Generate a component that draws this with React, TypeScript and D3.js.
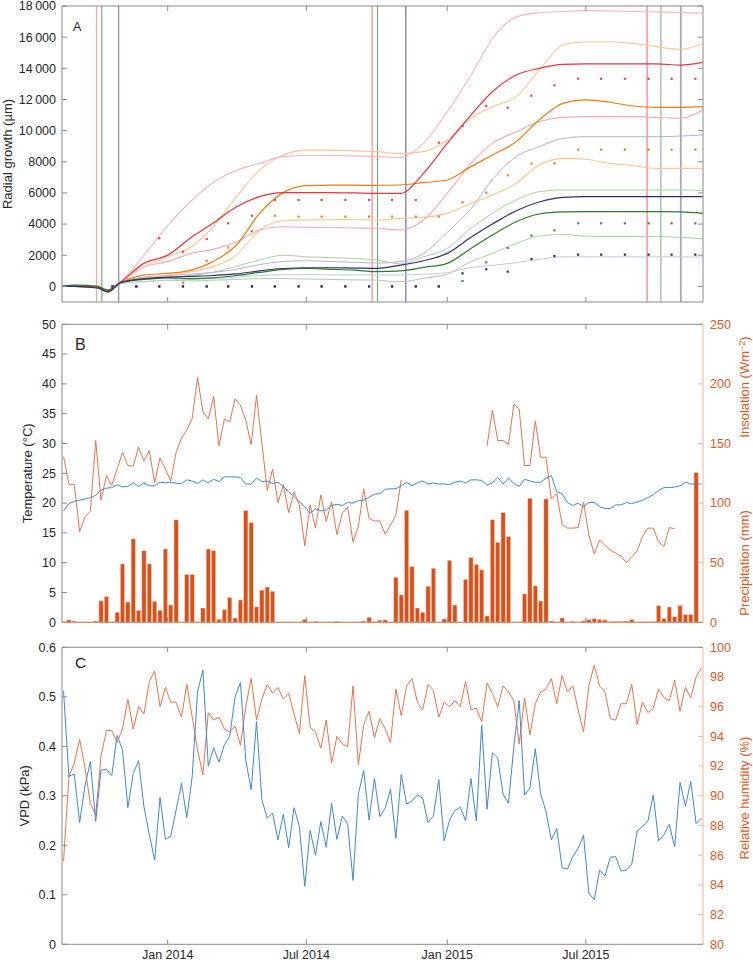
import React from 'react';
import * as d3 from 'd3';

const parse = d3.timeParse('%Y-%m-%d');

// ---------- shared x axis ----------
const xDomain = ['2013-08-16', '2015-12-01'];
const dateTicks = ['2014-01-01', '2014-07-01', '2015-01-01', '2015-07-01'];
const dateTickLabels = ['Jan 2014', 'Jul 2014', 'Jan 2015', 'Jul 2015'];

// ---------- panel A: radial growth ----------
const growthTicks = [0, 2000, 4000, 6000, 8000, 10000, 12000, 14000, 16000, 18000];
const growthTickLabels = ['0', '2000', '4000', '6000', '8000', '10\u2009000', '12\u2009000', '14\u2009000', '16\u2009000', '18\u2009000'];

const knotDates = [
  '2013-08-16', '2013-09-01', '2013-10-01', '2013-10-15', '2013-11-01', '2013-12-01',
  '2014-01-01', '2014-02-01', '2014-03-01', '2014-04-01', '2014-05-01', '2014-06-01',
  '2014-07-01', '2014-08-01', '2014-09-01', '2014-10-01', '2014-11-01', '2014-12-01',
  '2015-01-01', '2015-02-01', '2015-03-01', '2015-04-01', '2015-05-01', '2015-06-01',
  '2015-07-01', '2015-08-01', '2015-09-01', '2015-10-01', '2015-11-01', '2015-12-01',
];

const pinkUpper = [0, 50, 0, -250, 300, 2000, 3900, 5500, 6650, 7450, 7900, 8350, 8400, 8400, 8380, 8330, 8280, 9180, 11200, 13550, 15900, 17300, 17570, 17650, 17700, 17680, 17650, 17620, 17580, 17530];
const redTree = [0, 0, -50, -250, 300, 1480, 2010, 3150, 4050, 5120, 5760, 6020, 6020, 6020, 6000, 5970, 5970, 7260, 9180, 11000, 12500, 13570, 14000, 14250, 14280, 14280, 14280, 14280, 14210, 14380];
const peachUpper = [0, 0, -50, -250, 300, 1270, 1900, 2550, 3830, 5760, 7470, 8430, 8750, 8750, 8700, 8650, 8540, 8650, 9400, 10790, 11540, 12180, 13890, 15500, 15710, 15710, 15600, 15390, 15220, 15600];
const orangeTree = [0, 0, -50, -250, 250, 730, 840, 1050, 1590, 2660, 4690, 6020, 6470, 6500, 6500, 6480, 6510, 6660, 6830, 7690, 8430, 9290, 10680, 11750, 11970, 11820, 11580, 11490, 11490, 11540];
const pinkLower = [0, 0, -50, -300, 300, 1270, 1590, 2120, 2380, 2870, 3620, 3830, 3800, 3780, 3750, 3730, 3620, 4260, 5970, 7900, 9180, 9930, 10570, 10850, 10900, 10900, 10900, 10850, 10790, 11320];
const peachLower = [0, 0, -50, -250, 300, 520, 730, 940, 1270, 2010, 3620, 4220, 4260, 4280, 4300, 4260, 4370, 4430, 4690, 5330, 5870, 6620, 7790, 8220, 8160, 7900, 7750, 7580, 7580, 7580];
const lavenderUpper = [0, 0, -100, -350, 250, 600, 700, 800, 900, 1100, 1400, 1600, 1650, 1600, 1550, 1500, 1590, 2120, 3470, 4990, 6850, 8330, 8970, 9500, 9610, 9610, 9610, 9610, 9650, 9720];
const navyTree = [0, 0, -100, -350, 250, 500, 600, 650, 700, 800, 1000, 1150, 1200, 1200, 1180, 1160, 1370, 1650, 2120, 3150, 4000, 4860, 5420, 5720, 5760, 5760, 5760, 5760, 5760, 5760];
const greenUpper = [0, 80, 50, -200, 300, 500, 600, 700, 900, 1300, 1700, 2000, 1900, 1850, 1800, 1700, 1450, 1900, 2440, 3730, 4690, 5550, 6080, 6190, 6190, 6190, 6190, 6190, 6190, 6150];
const greenTree = [0, 80, 0, -250, 250, 450, 550, 500, 550, 700, 900, 1100, 1150, 1100, 1050, 950, 1000, 1220, 1480, 2440, 3300, 4150, 4650, 4780, 4800, 4800, 4800, 4800, 4780, 4690];
const lavenderLower = [0, 0, -100, -400, 200, 300, 400, 450, 500, 600, 700, 750, 750, 750, 740, 730, 730, 780, 880, 1220, 1350, 1520, 1740, 1900, 1900, 1900, 1900, 1900, 1900, 1880];
const greenLower = [0, 50, 0, -300, 200, 300, 400, 350, 400, 450, 500, 500, 480, 450, 420, 400, 300, 520, 790, 1590, 2120, 2760, 3230, 3340, 3230, 3200, 3200, 3200, 3150, 3050];

const dotDates = [
  '2013-10-21', '2013-11-21', '2013-12-21', '2014-01-21', '2014-02-21', '2014-03-21', '2014-04-21',
  '2014-05-21', '2014-06-21', '2014-07-21', '2014-08-21', '2014-09-21', '2014-10-21', '2014-11-21',
  '2014-12-21', '2015-01-21', '2015-02-21', '2015-03-21', '2015-04-21', '2015-05-21', '2015-06-21',
  '2015-07-21', '2015-08-21', '2015-09-21', '2015-10-21', '2015-11-21',
];
const dotsRed = [0, 0, 3090, 2230, 3040, 4050, 4540, 5550, 5550, 5550, 5550, 5550, 5550, 5550, 9230, 10300, 11580, 11470, 12240, 12910, 13330, 13330, 13330, 13330, 13330, 13330];
const dotsOrange = [0, 0, 0, 240, 1650, 2490, 3560, 4540, 4480, 4480, 4480, 4480, 4480, 4480, 4480, 5400, 6020, 7130, 7880, 7900, 8780, 8780, 8780, 8780, 8780, 8780];
const dotsGreen = [0, 0, 0, 0, 0, 0, 0, 0, 0, 0, 0, 0, 0, 0, 0, 350, 1550, 2470, 3260, 3600, 4050, 4050, 4050, 4050, 4050, 4050];
const dotsNavy = [0, 0, 0, 0, 0, 0, 0, 0, 0, 0, 0, 0, 0, 0, 0, 840, 1100, 950, 1760, 1950, 2040, 2040, 2040, 2040, 2040, 2040];

const markerDates = ['2013-09-30', '2013-10-07', '2013-10-29', '2014-09-25', '2014-10-02', '2014-11-08', '2015-09-19', '2015-10-07', '2015-11-02'];

// ---------- weekly climate (first value = week -1, starting 2013-08-18) ----------
const weekStart = '2013-08-18';
const tempC = [18.7, 19.9, 20.3, 20.5, 20.7, 20.9, 21.3, 22.2, 22.5, 22.6, 23.1,
  22.7, 22.8, 23.4, 22.8, 23.4, 22.9, 22.9, 23.5, 23.4, 23.5,
  23.3, 23.3, 23.9, 23.7, 23.3, 23.9, 23.4, 24.0, 23.6, 24.4,
  24.4, 24.4, 24.3, 23.2, 23.2, 24.2, 23.6, 23.7, 23.3, 23.5,
  22.8, 21.9, 21.1, 20.2, 19.4, 18.3, 19.0, 18.7, 18.8, 19.6,
  19.8, 19.6, 20.1, 20.0, 20.4, 20.5, 21.0, 21.5, 21.6, 22.3,
  22.4, 22.4, 22.9, 23.5, 22.9, 23.4, 23.7, 23.2, 23.4, 23.2,
  23.2, 23.1, 23.5, 23.7, 23.4, 23.9, 23.9, 23.8, 23.0, 23.4,
  24.3, 23.2, 24.2, 23.3, 22.8, 24.0, 23.7, 23.5, 23.5, 24.2,
  24.6, 21.9, 21.6, 20.1, 19.6, 20.0, 19.4, 20.1, 20.1, 19.4,
  19.1, 19.1, 19.7, 19.7, 20.1, 19.9, 20.2, 20.5, 20.9, 21.4,
  22.1, 22.6, 22.6, 22.7, 22.9, 23.5, 23.2, 23.2, 23.2];
const insolation = [139, 115.8, 115.8, 76, 88.5, 93, 152.5, 102.5, 123, 115, 128.5,
  142.5, 131.5, 131, 147, 135.5, 144, 117, 138, 128.5, 118.5,
  142.5, 154.5, 161.5, 171, 205.5, 176.5, 170.5, 189.5, 148, 170.5,
  168, 187.5, 182, 169.5, 149, 190.5, 150, 110.5, 128.5, 100.5,
  115, 92, 109.5, 98.5, 64, 98.5, 79, 107, 84.5, 101,
  73.5, 91.5, 96.5, 67.5, 80.5, 112, 87, 85, 85, 74,
  81.5, 90, 119.5, null, null, null, null, null, null, null,
  null, null, null, null, null, null, null, null, 148, 178,
  152.5, 152.5, 149, 183, 179, 131.5, 131.5, 169, 138.5, 138.5,
  103.5, 108, 82, 79, 79, 79.5, 101, 73, 57.5, 69,
  64.5, 60.5, 58, 55.5, 50, 55, 60, 72, 79, 79,
  67.5, 63.5, 79.5, 78.5, null, null, null, null, null];
const vpd = [0.512, 0.339, 0.344, 0.246, 0.32, 0.369, 0.248, 0.352, 0.354, 0.341, 0.422,
  0.393, 0.276, 0.345, 0.371, 0.278, 0.222, 0.170, 0.297, 0.212, 0.218,
  0.271, 0.325, 0.256, 0.339, 0.510, 0.554, 0.360, 0.397, 0.368, 0.403,
  0.420, 0.500, 0.529, 0.372, 0.312, 0.450, 0.292, 0.255, 0.265, 0.211,
  0.263, 0.195, 0.276, 0.238, 0.117, 0.230, 0.180, 0.248, 0.196, 0.285,
  0.212, 0.259, 0.244, 0.129, 0.304, 0.351, 0.251, 0.335, 0.258, 0.275,
  0.313, 0.214, 0.343, 0.283, 0.290, 0.302, 0.295, 0.246, 0.259, 0.333,
  0.209, 0.251, 0.270, 0.277, 0.250, 0.335, 0.249, 0.443, 0.273, 0.387,
  0.376, 0.303, 0.285, 0.399, 0.492, 0.302, 0.316, 0.395, 0.304, 0.268,
  0.211, 0.234, 0.155, 0.152, 0.177, 0.194, 0.220, 0.103, 0.090, 0.150,
  0.138, 0.176, 0.177, 0.148, 0.150, 0.162, 0.229, 0.238, 0.248, 0.302,
  0.209, 0.222, 0.242, 0.197, 0.327, 0.279, 0.329, 0.244, 0.255];
const rh = [85.6, 91.3, 92.2, 93.8, 91.9, 89.5, 88.7, 92.7, 94.4, 94.4, 93.6,
  94.5, 96.5, 94.5, 96.0, 95.5, 97.7, 98.4, 96.0, 97.3, 96.3,
  96.3, 95.3, 97.5, 95.3, 93.1, 91.4, 95.6, 95.1, 95.3, 94.5,
  94.3, 94.7, 93.4, 96.0, 97.9, 95.1, 96.5, 97.5, 96.9, 97.3,
  96.5, 96.9, 95.5, 94.2, 98.1, 94.6, 94.3, 93.2, 95.1, 92.2,
  94.0, 93.5, 93.3, 97.4, 92.1, 94.8, 95.7, 93.9, 95.2, 94.5,
  93.6, 97.2, 95.4, 97.4, 97.9, 96.3, 95.8, 97.5, 97.1, 95.3,
  96.3, 96.0, 96.4, 96.0, 97.7, 95.8, 95.9, 95.0, 97.6, 96.9,
  96.0, 97.4, 97.0, 96.4, 93.5, 96.6, 94.1, 96.2, 97.0, 97.2,
  97.9, 96.2, 98.1, 97.0, 97.4, 95.8, 94.3, 97.4, 98.8, 97.4,
  97.0, 95.2, 95.1, 96.2, 96.2, 97.5, 94.8, 96.3, 95.6, 95.9,
  97.2, 96.6, 96.4, 97.8, 95.7, 97.3, 96.6, 98.0, 98.6];
// weekly precipitation (mm), first value = week 0 (2013-08-25)
const precipStart = '2013-08-25';
const precip = [2, 1, 0, 0, 0, 1, 18, 21.5, 0, 8.4,
  49, 17, 70, 10, 60, 49, 17.6, 10, 61.5, 14.5,
  86, 0, 40, 40, 0, 12, 61.5, 60, 2.5, 10.6,
  20.7, 3.6, 18.7, 93.7, 83.6, 12.9, 27, 29.6, 26, 0,
  0, 0, 0, 0, 2.5, 0, 0.8, 0, 0, 0,
  0.6, 0, 0, 0, 0, 1, 4.2, 0.4, 1.8, 2,
  0, 37.7, 22.9, 94, 46.7, 12, 8.4, 30.2, 45.3, 0,
  2.8, 52, 14.5, 0, 36, 54.3, 48.4, 43.9, 5.3, 86,
  67, 92, 72, 0, 0, 23.8, 104, 30.5, 17.9, 103.5,
  1.1, 0, 3.6, 0, 0.8, 0, 1.2, 2.2, 3, 2.4,
  2, 0.3, 0.7, 0.7, 1, 2.3, 0, 0.3, 0.3, 0.5,
  14, 3.2, 12.8, 4.6, 14, 6.4, 6.6, 125.5];

const tempTicks = [0, 5, 10, 15, 20, 25, 30, 35, 40, 45, 50];
const rightBTicks = [0, 50, 100, 150, 200, 250];
const vpdTicks = [0, 0.1, 0.2, 0.3, 0.4, 0.5, 0.6];
const rhTicks = [80, 82, 84, 86, 88, 90, 92, 94, 96, 98, 100];

// ---------- layout & style ----------
const L = 62, R = 703;
const PA = { top: 6, bottom: 302 };
const PB = { top: 324.3, bottom: 622.3 };
const PC = { top: 647.3, bottom: 944.3 };
const AXIS = '#8a8a8a';
const TXT = '#262626';
const RIGHT_AX = '#f2b49a';
const RIGHT_TXT = '#db5a24';
const BLUE = '#3f87cf';
const SALMON = '#ea7048';
const BAR = '#d9501a';
const FONT = "'Liberation Sans', Arial, Helvetica, sans-serif";
const TICK = 5;

const seriesStyle = [
  { data: greenLower, color: '#a9d0a0', w: 1 },
  { data: lavenderLower, color: '#c8c6e2', w: 1 },
  { data: greenUpper, color: '#a9d0a0', w: 1 },
  { data: lavenderUpper, color: '#b3b0d6', w: 1 },
  { data: peachLower, color: '#fdc58f', w: 1.1 },
  { data: pinkLower, color: '#f5a9b7', w: 1.1 },
  { data: peachUpper, color: '#fdc58f', w: 1.1 },
  { data: pinkUpper, color: '#f7b3c0', w: 1.1 },
  { data: orangeTree, color: '#f27a10', w: 1.2 },
  { data: redTree, color: '#e8323f', w: 1.2 },
  { data: greenTree, color: '#2b7a2b', w: 1.2 },
  { data: navyTree, color: '#2f2f6c', w: 1.2 },
];
const markerStyle = [
  { color: '#f5a3ad', w: 1.2 }, { color: '#5e9f5e', w: 1 }, { color: '#8a8aa8', w: 1.2 },
  { color: '#f08890', w: 1.2 }, { color: '#6aa56a', w: 1 }, { color: '#55558a', w: 1 },
  { color: '#ee7070', w: 1.1 }, { color: '#7aaa7a', w: 1 }, { color: '#a9a5bd', w: 1.8 },
];
const dotStyle = [
  { data: dotsGreen, color: '#3f8f3f' },
  { data: dotsOrange, color: '#f07f1e' },
  { data: dotsRed, color: '#e8424f' },
  { data: dotsNavy, color: '#2d2d6b' },
];

export default function App() {
  const x = d3.scaleTime().domain(xDomain.map((d) => parse(d) as Date)).range([L, R]);
  const yA = d3.scaleLinear().domain([-1000, 18000]).range([PA.bottom, PA.top]);
  const yB = d3.scaleLinear().domain([0, 50]).range([PB.bottom, PB.top]);
  const yBR = d3.scaleLinear().domain([0, 250]).range([PB.bottom, PB.top]);
  const yC = d3.scaleLinear().domain([0, 0.6]).range([PC.bottom, PC.top]);
  const yCR = d3.scaleLinear().domain([80, 100]).range([PC.bottom, PC.top]);

  const knots = knotDates.map((d) => parse(d) as Date);
  const ws = parse(weekStart) as Date;
  const ps = parse(precipStart) as Date;
  const weekDate = (i: number) => d3.timeDay.offset(ws, 7 * i);
  const precipDate = (i: number) => d3.timeDay.offset(ps, 7 * i);
  const dDates = dotDates.map((d) => parse(d) as Date);
  const mDates = markerDates.map((d) => parse(d) as Date);
  const tDates = dateTicks.map((d) => parse(d) as Date);

  const growthLine = d3.line<number>().x((_, i) => x(knots[i])).y((v) => yA(v)).curve(d3.curveMonotoneX);
  const weekly = (scale: d3.ScaleLinear<number, number>) =>
    d3.line<number | null>().defined((v) => v != null).x((_, i) => x(weekDate(i))).y((v) => scale(v as number));

  const frame = (top: number, bottom: number, yTicksL: number[], sL: any, right: 'gray' | 'salmon', yTicksR: number[], sR: any, key: string) => (
    <g key={key}>
      {/* date ticks top & bottom */}
      {tDates.map((d, i) => (
        <g key={i}>
          <line x1={x(d)} x2={x(d)} y1={top} y2={top + TICK} stroke={AXIS} />
          <line x1={x(d)} x2={x(d)} y1={bottom} y2={bottom - TICK} stroke={AXIS} />
        </g>
      ))}
      {yTicksL.map((t, i) => (
        <line key={'l' + i} x1={L} x2={L + TICK} y1={sL(t)} y2={sL(t)} stroke={AXIS} />
      ))}
      {yTicksR.map((t, i) => (
        <line key={'r' + i} x1={R} x2={R - TICK} y1={sR(t)} y2={sR(t)} stroke={right === 'gray' ? AXIS : RIGHT_AX} />
      ))}
      <line x1={L} x2={R} y1={top} y2={top} stroke={AXIS} />
      <line x1={L} x2={R} y1={bottom} y2={bottom} stroke={AXIS} />
      <line x1={L} x2={L} y1={top} y2={bottom} stroke={AXIS} />
      <line x1={R} x2={R} y1={top} y2={bottom} stroke={right === 'gray' ? AXIS : RIGHT_AX} />
    </g>
  );

  return (
    <svg width={753} height={963} style={{ position: 'absolute', left: 0, top: 0, background: '#fff' }} fontFamily={FONT}>
      <defs>
        <clipPath id="clipA"><rect x={L} y={PA.top} width={R - L} height={PA.bottom - PA.top} /></clipPath>
        <clipPath id="clipB"><rect x={L} y={PB.top} width={R - L} height={PB.bottom - PB.top} /></clipPath>
        <clipPath id="clipC"><rect x={L} y={PC.top} width={R - L} height={PC.bottom - PC.top} /></clipPath>
      </defs>
      <rect x={0} y={0} width={753} height={963} fill="#fff" />

      {/* ---------------- Panel A ---------------- */}
      <g clipPath="url(#clipA)">
        {mDates.map((d, i) => (
          <line key={i} x1={x(d)} x2={x(d)} y1={PA.top} y2={PA.bottom} stroke={markerStyle[i].color} strokeWidth={markerStyle[i].w} />
        ))}
        {seriesStyle.map((s, i) => (
          <path key={i} d={growthLine(s.data) || ''} fill="none" stroke={s.color} strokeWidth={s.w} />
        ))}
        {dotStyle.map((s, i) => (
          <g key={i}>
            {s.data.map((v, j) => (
              <rect key={j} x={x(dDates[j]) - 1.1} y={yA(v) - 1.1} width={2.2} height={2.2} fill={s.color} />
            ))}
          </g>
        ))}
      </g>
      {frame(PA.top, PA.bottom, growthTicks, yA, 'gray', growthTicks, yA, 'fa')}
      {growthTicks.map((t, i) => (
        <text key={i} x={56} y={yA(t)} dy="0.35em" textAnchor="end" fontSize={12.5} fill={TXT}>{growthTickLabels[i]}</text>
      ))}
      <text transform={`translate(12,${(PA.top + PA.bottom) / 2}) rotate(-90)`} textAnchor="middle" fontSize={13} fill={TXT}>Radial growth (µm)</text>
      <text x={73} y={31} fontSize={12.5} fill={TXT}>A</text>

      {/* ---------------- Panel B ---------------- */}
      <g clipPath="url(#clipB)">
        {precip.map((v, i) => (
          <rect key={i} x={x(precipDate(i)) - 2.1} y={yBR(v)} width={4.2} height={yBR(0) - yBR(v)} fill={BAR} stroke="#f7c9b3" strokeWidth={0.5} />
        ))}
        <path d={weekly(yBR)(insolation) || ''} fill="none" stroke={SALMON} strokeWidth={1} />
        <path d={weekly(yB)(tempC) || ''} fill="none" stroke={BLUE} strokeWidth={1} />
      </g>
      {frame(PB.top, PB.bottom, tempTicks, yB, 'salmon', rightBTicks, yBR, 'fb')}
      <line x1={L} x2={R} y1={PB.bottom} y2={PB.bottom} stroke="#ec8a66" strokeWidth={1} />
      {tempTicks.map((t, i) => (
        <text key={i} x={56} y={yB(t)} dy="0.35em" textAnchor="end" fontSize={12.5} fill={TXT}>{t}</text>
      ))}
      {rightBTicks.map((t, i) => (
        <text key={i} x={710} y={yBR(t)} dy="0.35em" textAnchor="start" fontSize={12.5} fill={RIGHT_TXT}>{t}</text>
      ))}
      <text transform={`translate(32,${(PB.top + PB.bottom) / 2}) rotate(-90)`} textAnchor="middle" fontSize={13} fill={TXT}>Temperature (°C)</text>
      <text transform={`translate(749,387) rotate(-90)`} textAnchor="middle" fontSize={13} fill={RIGHT_TXT}>
        Insolation (Wm<tspan dy={-4} fontSize={9}>−2</tspan><tspan dy={4}>)</tspan>
      </text>
      <text transform={`translate(749,563) rotate(-90)`} textAnchor="middle" fontSize={13} fill={RIGHT_TXT}>Precipitation (mm)</text>
      <text x={75} y={350} fontSize={16} fill={TXT}>B</text>

      {/* ---------------- Panel C ---------------- */}
      <g clipPath="url(#clipC)">
        <path d={weekly(yCR)(rh) || ''} fill="none" stroke={SALMON} strokeWidth={1} />
        <path d={weekly(yC)(vpd) || ''} fill="none" stroke={BLUE} strokeWidth={1} />
      </g>
      {frame(PC.top, PC.bottom, vpdTicks, yC, 'salmon', rhTicks, yCR, 'fc')}
      {vpdTicks.map((t, i) => (
        <text key={i} x={56} y={yC(t)} dy="0.35em" textAnchor="end" fontSize={12.5} fill={TXT}>{t}</text>
      ))}
      {rhTicks.map((t, i) => (
        <text key={i} x={710} y={yCR(t)} dy="0.35em" textAnchor="start" fontSize={12.5} fill={RIGHT_TXT}>{t}</text>
      ))}
      <text transform={`translate(29,${(PC.top + PC.bottom) / 2}) rotate(-90)`} textAnchor="middle" fontSize={13} fill={TXT}>VPD (kPa)</text>
      <text transform={`translate(749,798) rotate(-90)`} textAnchor="middle" fontSize={13} fill={RIGHT_TXT}>Relative humidity (%)</text>
      <text x={75} y={668} fontSize={15.5} fill={TXT}>C</text>

      {/* shared x tick labels */}
      {tDates.map((d, i) => (
        <text key={i} x={x(d)} y={959} textAnchor="middle" fontSize={12.5} fill={TXT}>{dateTickLabels[i]}</text>
      ))}
    </svg>
  );
}
